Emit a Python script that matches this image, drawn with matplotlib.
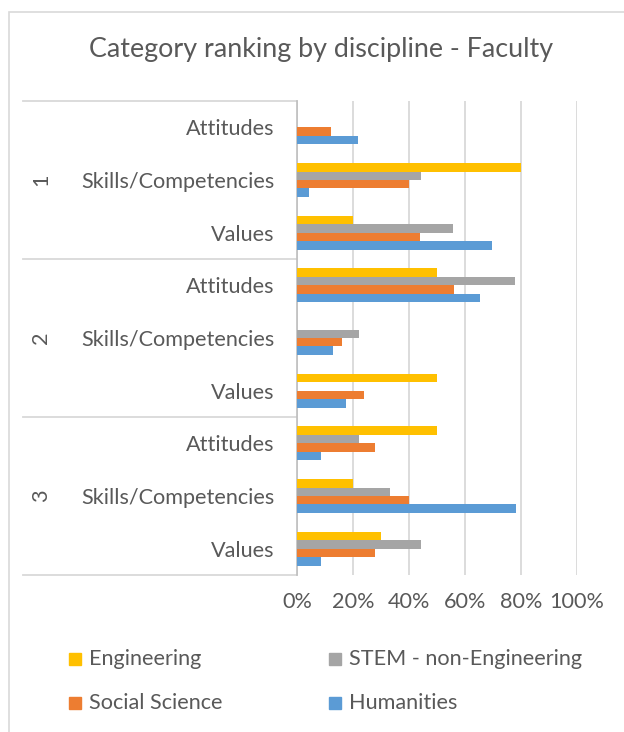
import matplotlib
matplotlib.use("Agg")
import matplotlib.pyplot as plt
from matplotlib.patches import Rectangle
from matplotlib.ticker import PercentFormatter

plt.rcParams['font.family'] = ['Lato', 'DejaVu Sans']

# categories top to bottom
groups = ['1', '2', '3']
categories = ['Attitudes', 'Skills/Competencies', 'Values']
series = ['Engineering', 'STEM - non-Engineering', 'Social Science', 'Humanities']
colors = ['#FFC000', '#A5A5A5', '#ED7D31', '#5B9BD5']

engineering = [0.00, 0.80, 0.20, 0.50, 0.00, 0.50, 0.50, 0.20, 0.30]
stem = [0.00, 0.444, 0.556, 0.778, 0.222, 0.00, 0.222, 0.333, 0.444]
social = [0.12, 0.40, 0.44, 0.56, 0.16, 0.24, 0.28, 0.40, 0.28]
humanities = [0.217, 0.043, 0.696, 0.652, 0.130, 0.174, 0.087, 0.783, 0.087]
values = [engineering, stem, social, humanities]

TXT = '#595959'
GRID = '#D9D9D9'
W, H = 624, 732
FS = 15.6

fig = plt.figure(figsize=(W / 100, H / 100), dpi=100)
# chart border
fig.add_artist(Rectangle((9 / W, -0.1), 1.2, 1 - 12 / H + 0.1, transform=fig.transFigure,
                         fill=False, edgecolor=GRID, lw=1.2))

ax = fig.add_axes([297 / W, 1 - 575 / H, (577 - 297) / W, (575 - 101) / H])
n = len(groups) * len(categories)
ypos = [n - 1 - i for i in range(n)]
h = 0.161
for k, (name, vals, c) in enumerate(zip(series, values, colors)):
    off = (1.5 - k) * h
    ax.barh([y + off for y in ypos], vals, height=h, color=c, label=name, zorder=3)

ax.set_xlim(0, 1)
ax.set_ylim(-0.5, n - 0.5)
ax.set_xticks([0, 0.2, 0.4, 0.6, 0.8, 1.0])
ax.xaxis.set_major_formatter(PercentFormatter(1.0, decimals=0))
ax.grid(axis='x', color=GRID, lw=1.3, zorder=0)
ax.set_yticks(ypos)
ax.set_yticklabels(categories * len(groups))
ax.tick_params(axis='y', length=0, pad=16, labelsize=FS, labelcolor=TXT)
ax.tick_params(axis='x', length=0, pad=12, labelsize=FS, labelcolor=TXT)
for s in ['top', 'right', 'bottom']:
    ax.spines[s].set_visible(False)
ax.spines['left'].set_color('#BFBFBF')
ax.spines['left'].set_linewidth(1.2)

# multi-level category axis
trans = ax.get_yaxis_transform()
x0 = (23 - 297) / (577 - 297)
for g in range(len(groups) + 1):
    yb = n - 0.5 - g * len(categories)
    ax.plot([x0, 0], [yb, yb], transform=trans, color=GRID, lw=1.3, clip_on=False)
for g, name in enumerate(groups):
    yc = n - 1 - g * len(categories) - (len(categories) - 1) / 2
    ax.text((41 - 297) / (577 - 297), yc, name, transform=trans, rotation=90,
            ha='center', va='center', fontsize=FS, color=TXT)

fig.text(321 / W, 1 - 50 / H, 'Category ranking by discipline - Faculty',
         ha='center', va='center', fontsize=19.4, color=TXT)

# legend
lx = [75, 335, 75, 335]
ly = [659, 659, 703, 703]
for i in range(len(series)):
    fig.add_artist(Rectangle(((lx[i] - 6) / W, 1 - (ly[i] + 6) / H), 12 / W, 12 / H,
                             transform=fig.transFigure, color=colors[i]))
    fig.text((lx[i] + 14) / W, 1 - ly[i] / H, series[i], ha='left', va='center',
             fontsize=FS, color=TXT)

fig.savefig('out.png', dpi=100)
